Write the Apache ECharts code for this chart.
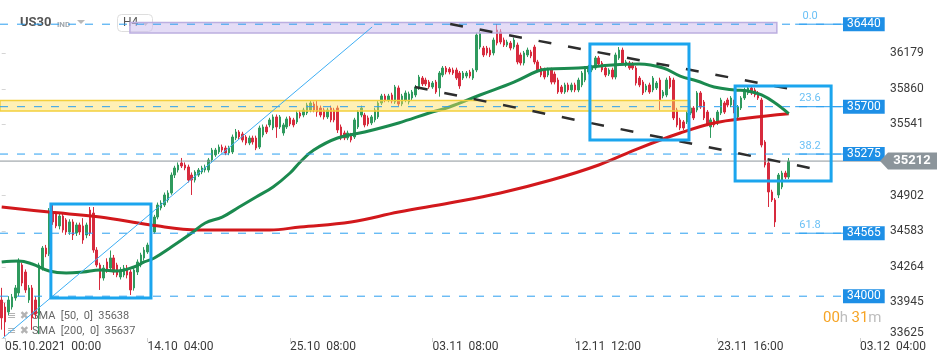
<!DOCTYPE html>
<html><head><meta charset="utf-8">
<script src="https://cdn.jsdelivr.net/npm/echarts@6/dist/echarts.min.js"></script>
<style>html,body{margin:0;padding:0;background:#fff}#c{width:950px;height:364px}</style>
</head><body><div id="c"></div>
<script>
// ---- data ----
// candles: [open, close, low, high]
const ohlc = [
[33966,33805,33700,34075],[33903,33769,33640,33940],[33858,33966,33830,34000],[33903,33993,33880,34020],[33984,34074,33960,34100],
[34029,34307,34000,34340],[34280,34118,34090,34300],[34217,34056,34030,34240],[33966,34074,33940,34100],[34074,33805,33697,34100],
[33966,33840,33800,34000],[33831,34280,33660,34300],[34253,34432,34230,34450],[34432,34379,34350,34460],[34379,34755,34360,34790],
[34755,34666,34640,34830],[34737,34630,34610,34760],[34630,34719,34600,34740],[34719,34594,34570,34740],[34684,34576,34550,34700],
[34576,34666,34550,34690],[34666,34549,34504,34690],[34567,34639,34540,34660],[34639,34576,34550,34660],[34630,34504,34470,34700],
[34549,34639,34520,34660],[34773,34567,34540,34800],[34746,34414,34390,34800],[34414,34280,34260,34440],[34280,34163,34056,34300],
[34163,34253,34140,34280],[34307,34235,34210,34340],[34253,34343,34230,34410],[34343,34217,34190,34370],[34280,34190,34170,34300],
[34172,34235,34150,34260],[34190,34253,34170,34280],[34253,34190,34160,34280],[34217,34056,34011,34240],[34074,34235,34050,34260],
[34217,34307,34190,34330],[34280,34370,34260,34390],[34343,34414,34320,34440],[34397,34459,34380,34480],[34441,34594,34420,34620],
[34576,34710,34560,34730],[34710,34818,34690,34840],[34791,34836,34770,34860],[34818,34908,34800,34930],[34863,34926,34840,34950],
[34926,35087,34910,35110],[35087,35150,35060,35170],[35132,35177,35110,35200],[35195,35168,35150,35240],[35177,35150,35130,35200],
[35159,35042,35020,35180],[35087,35042,34908,35110],[35042,35114,35020,35130],[35087,35132,35070,35150],[35114,35150,35095,35170],
[35132,35159,35110,35180],[35132,35222,35110,35240],[35222,35311,35200,35330],[35267,35311,35250,35330],[35294,35338,35275,35360],
[35338,35311,35290,35360],[35329,35285,35265,35350],[35285,35329,35265,35350],[35294,35428,35275,35450],[35419,35473,35400,35500],
[35473,35428,35410,35490],[35455,35401,35380,35475],[35428,35374,35355,35445],[35374,35419,35355,35440],[35419,35383,35360,35440],
[35419,35329,35310,35440],[35338,35509,35320,35530],[35446,35518,35425,35540],[35518,35473,35455,35540],[35536,35581,35515,35600],
[35509,35608,35490,35630],[35608,35518,35420,35630],[35518,35608,35500,35625],[35464,35536,35440,35555],[35518,35590,35500,35610],
[35599,35545,35525,35615],[35581,35536,35515,35600],[35563,35643,35545,35665],[35643,35616,35595,35665],[35625,35670,35605,35690],
[35643,35715,35625,35735],[35670,35733,35650,35755],[35724,35670,35650,35745],[35706,35652,35610,35760],[35688,35625,35605,35710],
[35670,35608,35585,35690],[35608,35670,35590,35690],[35688,35581,35560,35710],[35670,35581,35560,35690],[35688,35491,35464,35710],
[35518,35419,35400,35540],[35464,35419,35400,35485],[35419,35464,35400,35485],[35446,35401,35380,35465],[35428,35581,35410,35600],
[35518,35652,35500,35670],[35625,35688,35605,35710],[35625,35536,35515,35645],[35599,35545,35525,35620],[35554,35608,35535,35625],
[35581,35670,35560,35690],[35608,35733,35590,35750],[35733,35796,35715,35815],[35796,35760,35740,35815],[35760,35796,35740,35815],
[35805,35751,35730,35825],[35742,35877,35725,35895],[35868,35724,35705,35890],[35724,35796,35705,35815],[35760,35823,35740,35845],
[35742,35814,35720,35835],[35778,35832,35760,35850],[35805,35877,35785,35895],[35868,35966,35850,35985],[35957,35904,35885,35975],
[35939,35904,35885,35960],[35921,35877,35860,35940],[35877,35912,35860,35930],[35921,35832,35815,35940],[35868,36002,35790,36020],
[35984,36047,35965,36065],[36047,36011,35990,36065],[36038,36011,35990,36055],[36029,36002,35985,36050],[36029,35957,35940,36050],
[36002,35886,35860,36020],[35957,36002,35940,36020],[35975,36002,35955,36020],[36011,35975,35955,36030],[35957,36029,35940,36045],
[36029,36343,36010,36365],[36235,36361,36215,36380],[36226,36164,36145,36245],[36226,36182,36160,36245],[36208,36164,36145,36230],
[36182,36298,36160,36320],[36388,36271,36250,36442],[36370,36280,36260,36395],[36298,36253,36235,36320],[36253,36280,36235,36300],
[36271,36226,36205,36290],[36235,36298,36215,36320],[36253,36101,36080,36275],[36164,36092,36070,36185],[36092,36182,36070,36200],
[36164,36208,36145,36230],[36191,36155,36135,36210],[36235,36101,36080,36255],[36101,36029,36010,36120],[36047,35984,35965,36065],
[36029,35966,35945,36050],[35984,36029,35965,36050],[36029,35921,35900,36050],[35993,35921,35900,36015],[35939,35832,35815,35960],
[35877,35832,35815,35895],[35832,35895,35815,35915],[35895,35850,35830,35915],[35850,35895,35830,35915],[35895,35850,35830,35915],
[35850,35939,35830,35960],[35895,36002,35875,36020],[35939,36047,35920,36065],[36011,36056,35990,36075],[36029,36056,36010,36075],
[36047,36137,36030,36155],[36137,36083,36065,36155],[36092,36029,36010,36110],[36047,35984,35965,36065],[35993,36029,35975,36045],
[36029,35966,35945,36050],[35966,36164,35945,36185],[36137,36208,36120,36235],[36208,36092,36070,36230],[36074,36101,36055,36120],
[36092,36047,36030,36110],[36083,36047,36030,36100],[36047,35912,35890,36065],[35957,35895,35875,35975],[35921,35823,35805,35940],
[35850,35886,35830,35905],[35895,35832,35815,35915],[35850,35957,35830,35975],[35868,35912,35850,35930],[35939,35760,35670,35960],
[35796,35832,35775,35850],[35805,35939,35785,35960],[35957,35877,35860,35975],[35939,35599,35580,35960],[35670,35536,35515,35690],
[35581,35509,35490,35600],[35563,35509,35490,35580],[35563,35643,35545,35660],[35643,35688,35625,35705],[35688,35599,35580,35705],
[35670,35823,35650,35840],[35823,35697,35680,35840],[35742,35599,35580,35760],[35652,35545,35525,35670],[35518,35581,35420,35600],
[35581,35536,35515,35600],[35554,35652,35535,35670],[35643,35760,35625,35780],[35733,35652,35635,35750],[35760,35715,35695,35780],
[35715,35778,35695,35795],[35760,35643,35625,35780],[35608,35697,35590,35715],[35688,35778,35670,35795],[35778,35850,35760,35870],
[35823,35868,35805,35885],[35868,35823,35805,35885],[35850,35805,35785,35870],[35823,35778,35760,35840],[35760,35356,35335,35780],
[35383,35177,35155,35400],[35195,34935,34800,35215],[34935,34863,34845,34955],[34863,34666,34621,34880],[34908,35087,34880,35105],
[34980,35105,34960,35125],[35105,35069,35050,35125],[35069,35212,35050,35240]
];
// SMA lines: [candle index, value]
const sma50 = [[0,34307],[5,34316],[9,34289],[14,34226],[19,34208],[24,34217],[29,34235],[34,34226],[39,34262],[42,34307],[45,34343],[50,34441],[56,34567],[60,34657],[65,34710],[70,34800],[75,34890],[80,34980],[85,35105],[88,35204],[92,35311],[99,35419],[107,35473],[117,35554],[126,35643],[132,35697],[141,35805],[151,35921],[158,36020],[161,36038],[170,36047],[180,36074],[188,36083],[195,36047],[200,35975],[205,35930],[210,35877],[216,35850],[220,35841],[224,35805],[228,35733],[232,35638]];
const sma200 = [[0,34800],[14,34755],[29,34710],[44,34639],[58,34594],[70,34594],[79,34594],[88,34621],[103,34666],[117,34755],[132,34836],[147,34926],[162,35042],[176,35177],[188,35329],[200,35464],[210,35554],[220,35599],[232,35637]];
const sma50Last = 35638;
const sma200Last = 35637;
const lastPrice = 35212;
const yTicks = [33625, 33945, 34264, 34583, 34902, 35541, 35860, 36179];
const xTickIdx = [1, 43, 85, 127, 169, 211, 253];
const xTickLabels = ['05.10.2021  00:00', '14.10  04:00', '25.10  08:00', '03.11  08:00', '12.11  12:00', '23.11  16:00', '03.12  04:00'];
const nCats = 260;
const levels = [36440, 35700, 35275, 34565, 34000];
const fibNames = ['0.0', '23.6', '38.2', '61.8', ''];
// annotations in (index, price) space
const bandsDef = [
  {x1: 37.8, x2: 228.5, top: 36455, bot: 36362, kind: 'purple'},
  {x1: -0.5, x2: 202.9, top: 35756, bot: 35661, kind: 'yellow'}
];
const boxesDef = [
  {x1: 14.5, x2: 44.0, top: 34827, bot: 33984},
  {x1: 173.4, x2: 202.6, top: 36262, bot: 35401},
  {x1: 216.2, x2: 244.5, top: 35886, bot: 35033}
];
const trendUpper = [[132.2, 36442], [232.4, 35859]];
const trendLower = [[121.8, 35877], [238.3, 35150]];
const diagLine = [[0.38, 33625], [109.2, 36415]];

// ---- chart ----
const categories = [];
for (let i = 0; i < nCats; i++) {
  const k = xTickIdx.indexOf(i);
  categories.push(k >= 0 ? xTickLabels[k] : '');
}
const chart = echarts.init(document.getElementById('c'), null, {renderer: 'canvas'});
const FONT = 'Roboto, "Liberation Sans", sans-serif';
const levelRight = 248.0, gridRightIdx = 259.5, fibSolidStart = 233.9, fibLabelX = 238.3;

const bandStyles = {
  purple: {fill: 'rgba(205,192,238,0.55)', stroke: '#bcaee0'},
  yellow: {fill: 'rgba(255,222,90,0.45)', stroke: '#f3cf3c'}
};

const series = [];
series.push({
  type: 'candlestick', xAxisIndex: 0, yAxisIndex: 0, data: ohlc, barWidth: 2, z: 3,
  itemStyle: {color: '#2f9a5e', color0: '#d72a3d', borderColor: '#2f9a5e', borderColor0: '#d72a3d', borderWidth: 1}
});
series.push({type: 'line', xAxisIndex: 0, yAxisIndex: 0, data: sma200, smooth: 0.4, symbol: 'none', z: 5,
  lineStyle: {color: '#d2181c', width: 3}});
series.push({type: 'line', xAxisIndex: 0, yAxisIndex: 0, data: sma50, smooth: 0.4, symbol: 'none', z: 6,
  lineStyle: {color: '#1b8a4f', width: 3}});

// bands
series.push({
  type: 'custom', xAxisIndex: 1, yAxisIndex: 0, z: 8, silent: true,
  data: bandsDef.map(b => [b.x1, b.top, b.x2, b.bot, b.kind === 'purple' ? 0 : 1]),
  renderItem: function (params, api) {
    const a = api.coord([api.value(0), api.value(1)]);
    const b = api.coord([api.value(2), api.value(3)]);
    const st = api.value(4) === 0 ? bandStyles.purple : bandStyles.yellow;
    return {type: 'rect', shape: {x: a[0], y: a[1], width: b[0] - a[0], height: b[1] - a[1]},
      style: {fill: st.fill, stroke: st.stroke, lineWidth: 1.5}};
  }
});
// level dashed lines with price boxes
levels.forEach((lv, k) => {
  series.push({
    type: 'line', xAxisIndex: 1, yAxisIndex: 0, data: [[-0.5, lv], [levelRight, lv]], symbol: 'none', silent: true, z: 9,
    lineStyle: {color: '#2a9ff0', width: 1, type: [8, 9]},
    endLabel: {show: true, formatter: String(lv), distance: 0, backgroundColor: '#1e8fe6', color: '#fff',
      fontSize: 12, fontFamily: FONT, padding: [1, 4, 1, 4], lineHeight: 12}
  });
  if (fibNames[k]) {
    series.push({
      type: 'line', xAxisIndex: 1, yAxisIndex: 0, data: [[fibSolidStart, lv], [levelRight, lv]], symbol: 'none', silent: true, z: 9,
      lineStyle: {color: '#2a9ff0', width: 1}
    });
    series.push({
      type: 'scatter', xAxisIndex: 1, yAxisIndex: 0, data: [[fibLabelX, lv]], symbolSize: 1, silent: true, z: 9,
      itemStyle: {color: 'rgba(0,0,0,0)'},
      label: {show: true, position: 'top', distance: 2, formatter: fibNames[k], color: '#45b0f2', fontSize: 11, fontFamily: FONT}
    });
  }
});
// current price line
series.push({type: 'line', xAxisIndex: 1, yAxisIndex: 0, data: [[-0.5, lastPrice], [gridRightIdx, lastPrice]], symbol: 'none', silent: true, z: 9,
  lineStyle: {color: '#8d959b', width: 1}});
// trend lines
[trendUpper, trendLower].forEach(t => series.push({
  type: 'line', xAxisIndex: 1, yAxisIndex: 0, data: t, symbol: 'none', silent: true, z: 10,
  lineStyle: {color: '#2d2d2d', width: 2.5, type: [13, 17]}
}));
series.push({type: 'line', xAxisIndex: 1, yAxisIndex: 0, data: diagLine, symbol: 'none', silent: true, z: 10,
  lineStyle: {color: '#3eaef4', width: 1}});
// boxes
series.push({
  type: 'custom', xAxisIndex: 1, yAxisIndex: 0, z: 11, silent: true,
  data: boxesDef.map(b => [b.x1, b.top, b.x2, b.bot]),
  renderItem: function (params, api) {
    const a = api.coord([api.value(0), api.value(1)]);
    const b = api.coord([api.value(2), api.value(3)]);
    return {type: 'rect', shape: {x: a[0], y: a[1], width: b[0] - a[0], height: b[1] - a[1]},
      style: {fill: 'none', stroke: '#1ba5ee', lineWidth: 3}};
  }
});

const option = {
  animation: false,
  backgroundColor: '#fff',
  grid: {left: 0, right: 68, top: 0, bottom: 26},
  xAxis: [
    {type: 'category', data: categories, boundaryGap: true,
      axisLine: {show: false},
      axisTick: {show: true, length: 4, alignWithLabel: true, lineStyle: {color: '#d0d0d0'},
        interval: (i) => xTickIdx.indexOf(i) >= 0},
      axisLabel: {interval: (i) => xTickIdx.indexOf(i) >= 0, align: 'left', margin: 3, color: '#3a3a3a', fontSize: 12, fontFamily: FONT},
      splitLine: {show: false}},
    {type: 'value', min: -0.5, max: gridRightIdx, show: false}
  ],
  yAxis: [{
    type: 'value', position: 'right', min: 33625, max: 36657, scale: true,
    axisLine: {show: false},
    splitLine: {show: false},
    axisTick: {show: true, length: 4, customValues: yTicks, lineStyle: {color: '#d5d5d5'}},
    axisLabel: {customValues: yTicks, margin: 8, color: '#3a3a3a', fontSize: 12, fontFamily: FONT,
      formatter: (v) => v === yTicks[0] ? '{b|' + v + '}' : String(v),
      rich: {b: {padding: [0, 0, 10, 0], fontSize: 12, fontFamily: FONT, color: '#3a3a3a'}}}
  }],
  series: series,
  graphic: [
    {type: 'text', left: 20, top: 16, z: 0, style: {text: 'US30', font: 'bold 13px ' + FONT, fill: '#555'}},
    {type: 'text', left: 57, top: 21, z: 0, style: {text: 'IND', font: 'bold 8px ' + FONT, fill: '#a0a7ad'}},
    {type: 'polygon', z: 0, shape: {points: [[77, 20], [85, 20], [81, 24]]}, style: {fill: '#b8b8b8'}},
    {type: 'rect', z: 0, shape: {x: 117.5, y: 14.5, width: 35, height: 17, r: 4}, style: {fill: 'rgba(255,255,255,0.9)', stroke: '#dedede'}},
    {type: 'text', left: 123, top: 17, z: 0, style: {text: 'H4', font: '12px ' + FONT, fill: '#555'}},
    {type: 'polygon', z: 0, shape: {points: [[142, 22], [149, 22], [145.5, 26]]}, style: {fill: '#bbb'}},
    {type: 'text', left: 7, top: 311, z: 0, style: {text: '≡ ✖', font: '11px "DejaVu Sans"', fill: '#b3b3b3'}},
    {type: 'text', left: 7, top: 326, z: 0, style: {text: '≡ ✖', font: '11px "DejaVu Sans"', fill: '#b3b3b3'}},
    {type: 'text', left: 32, top: 311, z: 0, style: {text: 'SMA  [50,  0]  ' + sma50Last, font: '11px ' + FONT, fill: '#666'}},
    {type: 'text', left: 32, top: 326, z: 0, style: {text: 'SMA  [200,  0]  ' + sma200Last, font: '11px ' + FONT, fill: '#666'}},
    {type: 'text', left: 823, top: 311, z: 0, style: {
      text: '{o|00}{g|h} {o|31}{g|m}',
      rich: {o: {fill: '#f6a425', font: '15px ' + FONT}, g: {fill: '#bdbdbd', font: '15px ' + FONT}}}}
  ]
};
chart.setOption(option);

// current price tag, positioned through the axis scale
const py = chart.convertToPixel({yAxisIndex: 0}, lastPrice);
const px = chart.convertToPixel({xAxisIndex: 1}, gridRightIdx);
chart.setOption({graphic: option.graphic.concat([
  {type: 'polygon', z: 100, shape: {points: [[px - 2, py], [px + 6, py - 8.5], [937, py - 8.5], [937, py + 8.5], [px + 6, py + 8.5]]},
    style: {fill: '#8c959b'}},
  {type: 'text', z: 101, x: 912, y: py, style: {text: String(lastPrice), font: 'bold 13px ' + FONT, fill: '#fff', align: 'center', verticalAlign: 'middle'}}
])});
</script>
</body></html>
